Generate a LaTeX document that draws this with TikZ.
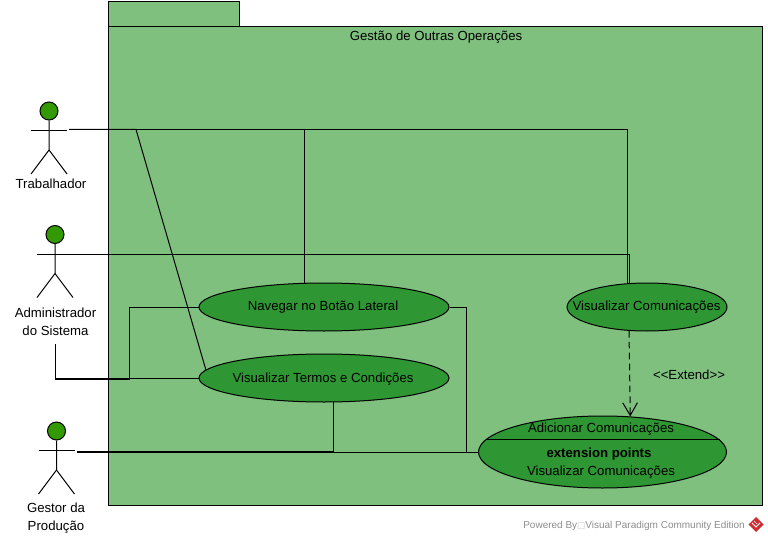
\documentclass[tikz,border=0pt]{standalone}
\usepackage{fontspec}
\setmainfont{Liberation Sans}
\newfontfamily\boxfont{DejaVu Sans}
\usetikzlibrary{arrows.meta,shapes.geometric}
\definecolor{pkggreen}{RGB}{127,192,127}
\definecolor{casegreen}{RGB}{46,150,50}
\definecolor{headgreen}{RGB}{51,153,0}
\definecolor{markgray}{RGB}{140,140,140}
\definecolor{markred}{RGB}{205,45,50}
\tikzset{
    link/.style={draw=black,line width=0.75pt},
    usecase/.style={ellipse,draw=black,fill=casegreen,line width=0.75pt,inner sep=0pt},
    casetext/.style={font=\fontsize{9.9}{11}\selectfont,inner sep=0pt},
    head/.style={circle,draw=black,fill=headgreen,line width=0.75pt,inner sep=0pt,minimum size=13.5pt},
}
\begin{document}
\begin{tikzpicture}[x=0.75pt,y=-0.75pt]
    \useasboundingbox (0,0) rectangle (768,542);

    % package
    \fill[pkggreen,draw=black,line width=0.75pt] (108.5,2) rectangle (239.5,26.5);
    \fill[pkggreen,draw=black,line width=0.75pt] (108.5,26.5) rectangle (762,505);
    \node[casetext] (title) at (436,37) {Gestão de Outras Operações};

    % use cases
    \node[usecase,minimum width=187.5pt,minimum height=36pt] (nav) at (324,307) {};
    \node[usecase,minimum width=187.5pt,minimum height=36pt] (ter) at (324,378) {};
    \node[usecase,minimum width=120pt,minimum height=36pt] (vis) at (647,307) {};
    \node[usecase,minimum width=186pt,minimum height=54pt] (adi) at (602.5,452) {};

    % actors
    \foreach \name/\x/\y in {trab/49/111, adm/55/234.5, ges/56.5/431} {
        \node[head] (\name) at (\x,\y) {};
        \draw[link] (\name.south) -- ++(0,29.5) coordinate (\name hip) -- ++(-18,24);
        \draw[link] (\name hip) -- ++(18,24);
        \draw[link] (\x-18,\y+19.5) -- (\x+18,\y+19.5);
    }
    \node[casetext] (trablabel) at (51,184) {Trabalhador};
    \node[casetext,align=center] (admlabel) at (55.5,322) {Administrador\\[2.5pt]do Sistema};
    \node[casetext,align=center] (geslabel) at (56,518) {Gestor da\\[2.5pt]Produção};

    % free ends
    \coordinate (trabend) at (69,129.5);
    \coordinate (trabknee) at (136,129.5);
    \coordinate (admend) at (73,254);
    \coordinate (admlow) at (55.5,344);
    \coordinate (admelbow) at (129,379);
    \coordinate (gesend) at (77,451);
    \coordinate (gesend2) at (77,452);
    \coordinate (navelbow) at (466,307);

    \draw[link] (trabend) -| (nav.129.4);
    \draw[link] (trabend) -| (vis.129.5);
    \draw[link] (trabend) -- (trabknee) -- (ter.176.8);
    \draw[link] (admend) -| (vis.127.8);
    \draw[link] (admlow) |- (admelbow) |- (nav.west);
    \draw[link] (admlow) |- (ter.west);
    \draw[link] (gesend) -| (ter.292.7);
    \draw[link] (gesend2) -| (navelbow) -- (nav.east);
    \draw[link] (gesend2) -- (adi.west);

    % extend
    \draw[link,dashed,dash pattern=on 5pt off 3.2pt,-{Straight Barb[length=9.5pt,width=11pt]}] (vis.233.2) -- (adi.52.4);
    \node[casetext] (extend) at (689,375) {{<}{<}Extend{>}{>}};

    % use case texts
    \node[casetext] (navtext) at (323,307) {Navegar no Botão Lateral};
    \node[casetext] (tertext) at (323,379) {Visualizar Termos e Condições};
    \node[casetext] (vistext) at (646.5,307) {Visualizar Comunicações};
    \coordinate (adileft) at (486,439.5);
    \coordinate (adiright) at (719.5,439.5);
    \draw[link] (adileft) -- (adiright);
    \node[casetext] (adititle) at (601,429) {Adicionar Comunicações};
    \node[casetext,font=\fontsize{9.9}{11}\selectfont\bfseries] (adiext) at (599,454) {extension points};
    \node[casetext] (adipoint) at (601,472) {Visualizar Comunicações};

    % watermark
    \node[inner sep=0pt,text=markgray,font=\fontsize{7.5}{10}\selectfont,anchor=east] (mark) at (745,526)
        {Powered By{\boxfont\fontsize{6.5}{8}\selectfont\textcolor{markgray!50}{□}}Visual Paradigm Community Edition};
    \fill[markred] (756,517) -- (763.5,524.5) -- (756,532) -- (748.5,524.5) -- cycle;
    \draw[white,line width=0.6pt] (752,523) -- (756,527) -- (760,523);
    \draw[white,line width=0.5pt] (754,521) -- (757,524);
\end{tikzpicture}
\end{document}
